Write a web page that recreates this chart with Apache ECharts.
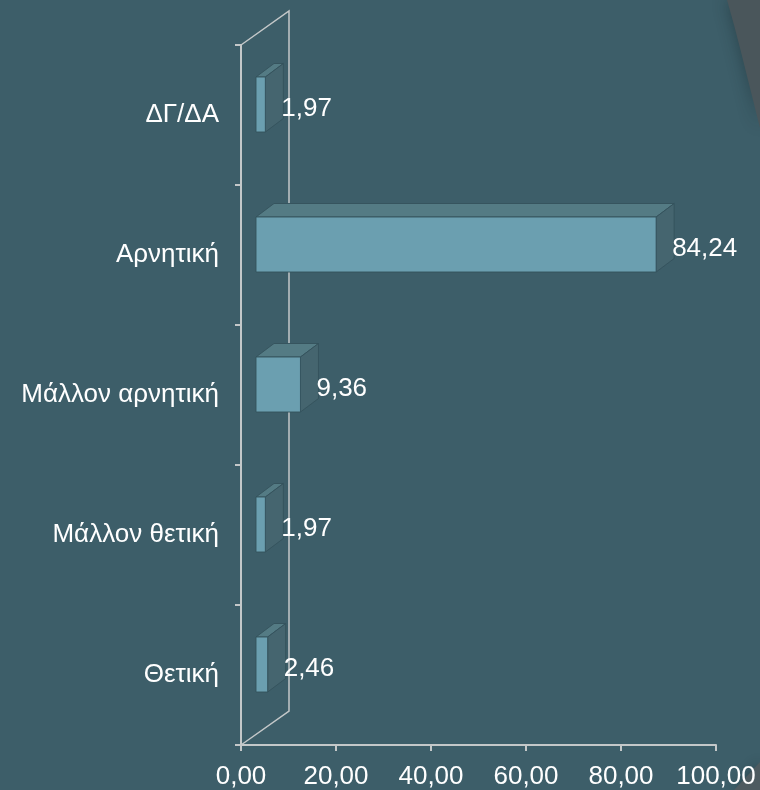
<!DOCTYPE html>
<html>
<head>
<meta charset="utf-8">
<script src="https://cdn.jsdelivr.net/npm/echarts@6/dist/echarts.min.js"></script>
<style>html,body{margin:0;padding:0;background:#3d5e69;}#c{width:760px;height:790px;}</style>
</head>
<body>
<div id="c"></div>
<script>
// Data (top to bottom)
const categories = ['ΔΓ/ΔΑ', 'Αρνητική', 'Μάλλον αρνητική', 'Μάλλον θετική', 'Θετική'];
const values = [1.97, 84.24, 9.36, 1.97, 2.46];
const xTicks = [0, 20, 40, 60, 80, 100];

const FONT = "'Liberation Sans', Arial, sans-serif";
const FS = 26;
const fmt = v => Number(v).toFixed(2).replace('.', ',');

const chart = echarts.init(document.getElementById('c'), null, {renderer: 'canvas'});

function wallItem(params, api) {
  const band = api.size([0, 1])[1];
  const first = api.coord([0, 0]);
  const last = api.coord([0, categories.length - 1]);
  const x0 = first[0];
  const yT = first[1] - band / 2;
  const yB = last[1] + band / 2;
  const dx = band * 48 / 140, dy = -band * 34 / 140;
  return {
    type: 'polyline',
    shape: {points: [[x0, yT], [x0 + dx, yT + dy], [x0 + dx, yB + dy], [x0, yB]]},
    style: {stroke: '#c4c8c9', lineWidth: 1.5, fill: null},
    silent: true
  };
}

function barItem(params, api) {
  const val = api.value(0);
  const cat = api.value(1);
  const band = api.size([0, 1])[1];
  const p0 = api.coord([0, cat]);
  const p1 = api.coord([val, cat]);
  const fox = band * 15 / 140, foy = -band * 10.5 / 140;
  const dx = band * 18 / 140, dy = -band * 13.5 / 140;
  const hh = band * 27.5 / 140;
  const x0 = p0[0] + fox, x1 = p1[0] + fox;
  const yT = p0[1] + foy - hh, yB = p0[1] + foy + hh;
  const edge = 'rgba(52,82,92,0.9)';
  return {
    type: 'group',
    children: [
      {type: 'polygon', shape: {points: [[x0, yT], [x1, yT], [x1 + dx, yT + dy], [x0 + dx, yT + dy]]},
       style: {fill: '#547b84', stroke: edge, lineWidth: 1}},
      {type: 'polygon', shape: {points: [[x1, yT], [x1 + dx, yT + dy], [x1 + dx, yB + dy], [x1, yB]]},
       style: {fill: '#45656f', stroke: edge, lineWidth: 1}},
      {type: 'rect', shape: {x: x0, y: yT, width: x1 - x0, height: yB - yT},
       style: {fill: '#6b9fb0', stroke: edge, lineWidth: 1}},
      {type: 'text', style: {text: fmt(val), x: x1 + 16, y: (yT + yB) / 2 + 4, fill: '#ffffff',
        fontSize: FS, fontFamily: FONT, align: 'left', verticalAlign: 'middle'}}
    ]
  };
}

chart.setOption({
  backgroundColor: '#3d5e69',
  animation: false,
  graphic: [
    {type: 'polygon', shape: {points: [[727, 0], [734, 25], [741, 52], [748, 80], [754, 104], [760, 128], [760, 0]]},
     style: {fill: '#4a565b', shadowBlur: 16, shadowColor: 'rgba(20,35,40,0.45)'}, z: 0},
    {type: 'polygon', shape: {points: [[734, 790], [760, 762], [760, 790]]},
     style: {fill: '#4e5b60', shadowBlur: 12, shadowColor: 'rgba(20,35,40,0.45)'}, z: 0}
  ],
  grid: {left: 241, right: 44, top: 45, bottom: 45, containLabel: false},
  xAxis: {
    type: 'value', min: xTicks[0], max: xTicks[xTicks.length - 1], interval: 20,
    axisLine: {show: true, lineStyle: {color: '#c4c8c9', width: 2}},
    axisTick: {show: true, length: 6, lineStyle: {color: '#c4c8c9', width: 2}},
    splitLine: {show: false},
    axisLabel: {color: '#ffffff', fontSize: FS, fontFamily: FONT, margin: 19, formatter: v => fmt(v)}
  },
  yAxis: {
    type: 'category', data: categories, inverse: true,
    axisLine: {show: true, lineStyle: {color: '#c4c8c9', width: 2}},
    axisTick: {show: true, length: 6, alignWithLabel: false, lineStyle: {color: '#c4c8c9', width: 2}},
    axisLabel: {color: '#ffffff', fontSize: FS, fontFamily: FONT, margin: 22}
  },
  series: [
    {type: 'custom', renderItem: wallItem, data: [[0, 0]], clip: false, z: 1, silent: true},
    {type: 'custom', renderItem: barItem, data: values.map((v, i) => [v, i]),
     encode: {x: 0, y: 1}, clip: false, z: 2}
  ]
});
</script>
</body>
</html>
